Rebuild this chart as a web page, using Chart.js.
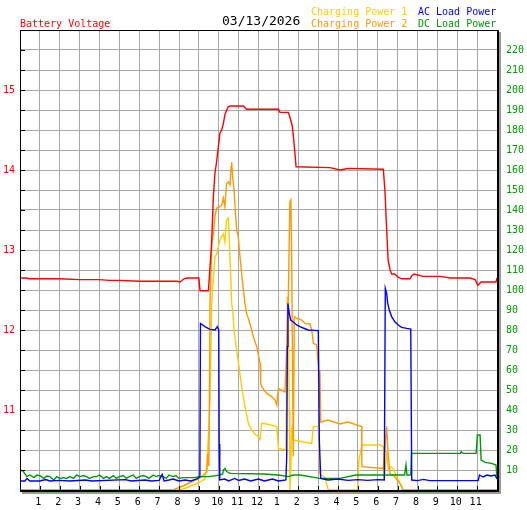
<!DOCTYPE html>
<html>
<head>
<meta charset="utf-8">
<script src="https://cdn.jsdelivr.net/npm/chart.js@4.4.1/dist/chart.umd.min.js"></script>
<style>
  html, body { margin: 0; padding: 0; background: #fff; }
</style>
</head>
<body>
<canvas id="chart" width="527" height="510"></canvas>
<script>
// hour of day, value
const batteryVoltage = [
  [0,12.65],[0.3,12.65],[0.5,12.64],[1,12.64],[2,12.64],[3,12.63],[4,12.63],[4.5,12.62],[5,12.62],
  [6,12.61],[7,12.61],[7.9,12.61],[8.05,12.6],[8.25,12.64],[8.4,12.65],[9.0,12.65],[9.06,12.49],
  [9.48,12.49],[9.56,12.79],[9.64,13.08],[9.73,13.67],[9.81,13.96],[9.89,14.10],[9.98,14.29],
  [10.06,14.46],[10.15,14.5],[10.23,14.58],[10.31,14.69],[10.4,14.75],[10.48,14.79],[10.57,14.8],
  [11.24,14.8],[11.4,14.76],[12.92,14.76],[13.0,14.76],[13.08,14.72],[13.5,14.72],[13.58,14.66],
  [13.69,14.56],[13.75,14.44],[13.84,14.19],[13.89,14.04],[15.6,14.03],[16.1,14.0],[16.3,14.01],
  [16.5,14.02],[18.28,14.01],[18.36,13.75],[18.45,13.25],[18.52,12.875],[18.62,12.75],[18.70,12.70],
  [18.85,12.70],[19.02,12.66],[19.22,12.64],[19.62,12.64],[19.72,12.68],[19.82,12.7],[20.28,12.67],
  [21.18,12.67],[21.64,12.65],[22.64,12.65],[22.9,12.63],[23.04,12.56],[23.2,12.6],[23.95,12.6],[24,12.65]
];

const chargingPower1 = [
  [0,0],[8.05,0],[8.5,1.5],[9.06,4],[9.3,5.5],[9.39,12],[9.5,30],[9.56,45],[9.65,95],[9.73,105],
  [9.81,116.7],[9.9,118],[9.98,121.7],[10.06,125],[10.15,126.7],[10.23,128],[10.31,124],[10.39,135],
  [10.48,136],[10.53,125],[10.6,108],[10.65,93],[10.7,90],[10.77,80],[10.9,70],[11.07,58],[11.15,51.7],
  [11.32,41.7],[11.49,33.3],[11.66,30],[11.82,28],[11.99,26.7],[12.08,25.3],[12.16,33.3],[12.41,33],
  [12.92,31.7],[13.0,20.8],[13.38,20],[13.42,60],[13.45,96.7],[13.5,90],[13.55,40],[13.58,0],[13.63,10],
  [13.67,31.7],[13.75,25],[14.25,24],[14.68,23.3],[14.76,31.7],[15.01,31.7],[15.09,8],[15.35,6],[15.51,0],
  [17.0,0],[17.05,15],[17.19,21.7],[17.27,22.5],[18.11,22.5],[18.28,21.7],[18.33,5],[18.45,20],[18.53,10],
  [18.62,11.7],[18.75,11],[18.95,6.7],[19.03,5],[19.2,1.7],[19.28,0],[24,0]
];

const chargingPower2 = [
  [0,0],[7.7,0],[8.2,2],[8.6,4],[9.06,6],[9.4,9],[9.45,18],[9.5,12],[9.53,45],[9.56,93],[9.65,123],
  [9.73,128],[9.81,137],[9.9,141],[10.06,141.7],[10.15,142.5],[10.23,146],[10.31,141.7],[10.39,153],
  [10.48,154],[10.57,152.5],[10.62,161.7],[10.65,164],[10.7,156.7],[10.77,150],[10.82,141.7],[10.9,130],
  [10.98,126.7],[11.07,116.7],[11.15,108.3],[11.24,100],[11.32,93.3],[11.4,88.3],[11.57,83.3],[11.74,76.7],
  [11.91,71.7],[12.08,63.3],[12.11,53.3],[12.16,51.7],[12.41,48.3],[12.66,46.7],[12.83,45],[12.92,42.5],
  [13.0,50.8],[13.33,49],[13.38,60],[13.5,96.7],[13.58,144],[13.63,145],[13.67,116.7],[13.72,50],
  [13.75,16.7],[13.8,86.7],[13.92,85.8],[14.17,85],[14.34,83.3],[14.59,83],[14.68,80],[14.76,73.3],
  [14.93,72.5],[15.01,62],[15.06,41.7],[15.09,60],[15.13,34],[15.5,35],[16.1,33],[16.5,34],[17.19,31.7],
  [17.2,11.7],[18.28,10.8],[18.36,20],[18.45,31.7],[18.52,18],[18.62,8],[18.78,7.5],[19.12,3.3],[19.28,0],[24,0]
];

const acLoadPower = [
  [0,4.5],[0.25,4.5],[0.35,5.8],[0.5,4.5],[1.0,4.5],[1.3,5.2],[1.5,4.5],[2.0,4.8],[2.5,4.5],[3.3,5.0],
  [3.6,4.5],[5.3,5.2],[5.6,4.5],[6.3,5.0],[6.6,4.5],[7.0,4.8],[7.15,7.8],[7.25,4.5],[7.5,5.0],[7.7,5.5],
  [8.0,4.5],[8.3,5.0],[8.6,4.5],[8.9,5.5],[9.05,6.7],[9.08,83.3],[9.13,83],[9.3,81.7],[9.56,80.3],
  [9.81,80],[9.93,81.7],[10.0,80],[10.02,23],[10.05,5],[10.3,5.5],[10.5,4.5],[10.8,5.8],[11.0,4.8],
  [11.3,5.5],[11.6,4.5],[12.0,5.5],[12.3,4.5],[12.7,5.5],[13.0,4.5],[13.38,5],[13.42,16.7],[13.45,71.7],
  [13.48,93.3],[13.5,91.7],[13.55,88.3],[13.62,85],[13.75,84],[13.92,82.5],[14.09,81.7],[14.25,81],
  [14.5,80],[15.01,79.7],[15.06,25],[15.13,5.8],[15.5,5],[16.0,5.5],[16.5,4.8],[17.0,5.2],[17.5,4.8],
  [18.0,5.2],[18.33,5],[18.38,100.8],[18.45,98.3],[18.5,93.3],[18.58,90],[18.7,86.7],[18.87,84],
  [19.03,82.5],[19.2,81.3],[19.46,80.8],[19.66,80.5],[19.71,5],[20.0,4.7],[20.3,5.3],[20.6,4.7],
  [21.0,4.7],[22.0,4.7],[23.05,4.7],[23.12,7.5],[23.3,6.5],[23.5,7.5],[23.7,7],[23.9,7.5],[24,5.5]
];

const dcLoadPower = [
  [0,10],[0.15,9.5],[0.35,6.7],[0.5,7.5],[0.7,6.2],[0.85,7.5],[1.0,7.2],[1.2,5.8],[1.35,7.0],[1.5,6.7],
  [1.7,5.0],[1.85,6.7],[2.0,5.8],[2.2,6.2],[2.35,5.8],[2.5,6.7],[2.7,5.8],[2.85,7.5],[3.0,6.7],[3.2,7.2],
  [3.35,6.7],[3.5,5.8],[3.7,6.7],[3.85,6.7],[4.0,7.5],[4.2,5.8],[4.35,6.7],[4.5,5.8],[4.7,7.2],[4.85,5.8],
  [5.0,6.7],[5.2,7.2],[5.35,5.8],[5.5,6.7],[5.7,7.5],[5.85,5.8],[6.0,6.7],[6.2,7.2],[6.35,6.7],[6.5,5.8],
  [6.7,7.5],[6.85,6.7],[7.0,7.2],[7.2,6.7],[7.35,5.8],[7.5,7.5],[7.7,6.7],[7.85,7.2],[8.0,5.8],[8.2,6.2],
  [8.8,6.2],[9.0,6.7],[9.5,6.7],[10.06,7.5],[10.2,8],[10.23,10],[10.31,10.8],[10.4,9.2],[10.57,8.3],
  [12.24,8],[13.0,7.5],[13.5,6.7],[13.75,7.5],[14.1,7.5],[15.09,5.8],[16.1,5.8],[16.9,7.5],[18.28,7.5],
  [19.35,7.5],[19.42,12.5],[19.47,7.5],[19.66,7.5],[19.7,18.3],[22.16,18.3],[22.2,19.2],[22.3,18.3],
  [22.95,18.3],[23.01,27.5],[23.15,27.5],[23.2,15],[23.4,13.8],[23.73,13.3],[23.95,12.5],[24,5.8]
];

const hourLabels = ['','1','2','3','4','5','6','7','8','9','10','11','12','1','2','3','4','5','6','7','8','9','10','11',''];
const voltTicks = [11, 12, 13, 14, 15];

const toXY = pts => pts.map(([x, y]) => ({ x: x, y: y }));
const mono = '"DejaVu Sans Mono", "Liberation Mono", monospace';

function line(label, pts, color, axis) {
  return {
    label: label,
    data: toXY(pts),
    yAxisID: axis,
    borderColor: color,
    borderWidth: 1.4,
    pointRadius: 0,
    tension: 0,
    fill: false
  };
}

// titles, frame and the little inner tick marks
const decor = {
  id: 'decor',
  afterDraw(chart) {
    const ctx = chart.ctx;
    const a = chart.chartArea;
    const x = chart.scales.x, p = chart.scales.power;
    ctx.save();
    ctx.strokeStyle = '#000';
    ctx.lineWidth = 1;
    ctx.beginPath();
    for (let h = 1; h < 24; h++) {
      const px = Math.round(x.getPixelForValue(h)) + 0.5;
      ctx.moveTo(px, a.bottom); ctx.lineTo(px, a.bottom - 4);
    }
    for (let v = 10; v < 230; v += 10) {
      const py = Math.round(p.getPixelForValue(v)) + 0.5;
      ctx.moveTo(a.left, py); ctx.lineTo(a.left + 5, py);
    }
    ctx.stroke();
    ctx.strokeRect(a.left + 0.5, a.top + 0.5, a.right - a.left, a.bottom - a.top);
    ctx.beginPath();
    ctx.moveTo(a.right + 1.5, a.top); ctx.lineTo(a.right + 1.5, a.bottom + 2);
    ctx.moveTo(a.left, a.bottom + 1.5); ctx.lineTo(a.right + 2, a.bottom + 1.5);
    ctx.stroke();
    ctx.strokeStyle = '#999';
    ctx.lineWidth = 2;
    ctx.beginPath();
    ctx.moveTo(a.right + 3, a.top + 2); ctx.lineTo(a.right + 3, a.bottom + 4);
    ctx.moveTo(a.left + 2, a.bottom + 3); ctx.lineTo(a.right + 4, a.bottom + 3);
    ctx.stroke();

    ctx.textBaseline = 'alphabetic';
    ctx.textAlign = 'left';
    ctx.font = '10px ' + mono;
    ctx.fillStyle = '#ff0000';
    ctx.fillText('Battery Voltage', 20, 27);
    ctx.fillStyle = '#ffcc00';
    ctx.fillText('Charging Power 1', 311, 15);
    ctx.fillStyle = '#ff9900';
    ctx.fillText('Charging Power 2', 311, 27);
    ctx.fillStyle = '#0000ff';
    ctx.fillText('AC Load Power', 418, 15);
    ctx.fillStyle = '#009900';
    ctx.fillText('DC Load Power', 418, 27);
    ctx.font = '13px ' + mono;
    ctx.fillStyle = '#000';
    ctx.fillText('03/13/2026', 222, 25);
    ctx.restore();
  }
};

new Chart(document.getElementById('chart').getContext('2d'), {
  type: 'line',
  data: {
    datasets: [
      line('Battery Voltage', batteryVoltage, '#ff0000', 'volt'),
      line('AC Load Power', acLoadPower, '#0000ff', 'power'),
      line('DC Load Power', dcLoadPower, '#009900', 'power'),
      line('Charging Power 2', chargingPower2, '#ff9900', 'power'),
      line('Charging Power 1', chargingPower1, '#ffcc00', 'power')
    ]
  },
  options: {
    responsive: false,
    animation: false,
    layout: { padding: { top: 30, left: 0, right: 0, bottom: 0 } },
    plugins: { legend: { display: false }, tooltip: { enabled: false } },
    scales: {
      x: {
        type: 'linear', min: 0, max: 24,
        afterFit: s => { s.height = 20; },
        ticks: {
          stepSize: 1, autoSkip: false, maxRotation: 0, padding: 6, labelOffset: -1.5, color: '#000',
          font: { family: mono, size: 10 },
          callback: v => hourLabels[v] || ''
        },
        grid: { color: '#a8a8a8', drawTicks: false },
        border: { display: false }
      },
      volt: {
        position: 'left', min: 10, max: 15.75,
        afterFit: s => { s.width = 20; },
        afterBuildTicks: s => { s.ticks = voltTicks.map(v => ({ value: v })); },
        ticks: { padding: 5, color: '#ff0000', font: { family: mono, size: 10 } },
        grid: { display: false, drawTicks: false },
        border: { display: false }
      },
      power: {
        position: 'right', min: 0, max: 230,
        afterFit: s => { s.width = 30; },
        ticks: {
          stepSize: 10, autoSkip: false, padding: 9, color: '#009900',
          font: { family: mono, size: 10 },
          callback: v => (v > 0 && v < 230) ? String(v) : ''
        },
        grid: { color: '#a8a8a8', drawTicks: false },
        border: { display: false }
      }
    }
  },
  plugins: [decor]
});
</script>
</body>
</html>
